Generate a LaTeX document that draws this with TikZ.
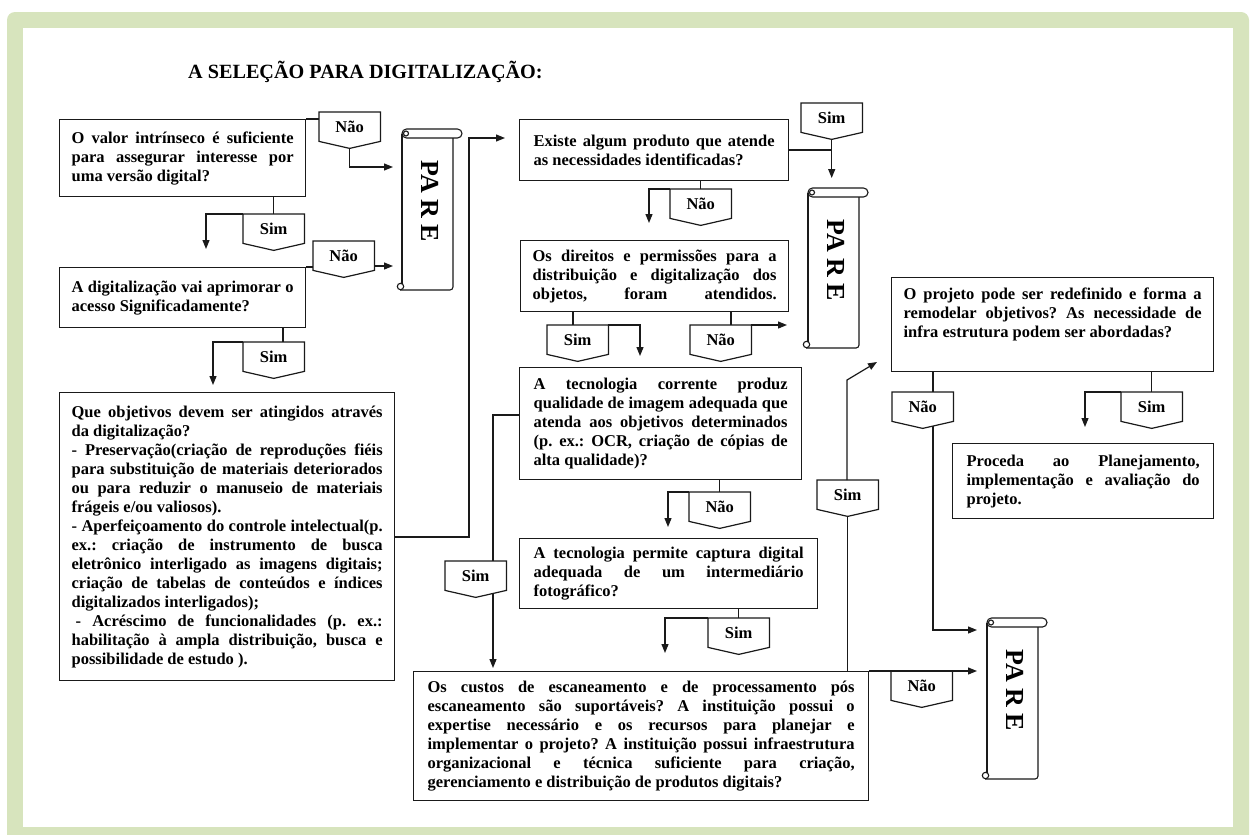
\documentclass[tikz,border=0pt]{standalone}
\usepackage{fontspec}
\setmainfont{Liberation Serif}
\usetikzlibrary{arrows.meta,calc}
\definecolor{framegreen}{HTML}{D7E4BD}
\definecolor{lineblk}{HTML}{1A1A1A}
\tikzset{
  lnk/.style={draw=lineblk, line width=1.2pt},
  arr/.style={lnk, -{Triangle[length=9pt,width=7pt]}},
  qbox/.style n args={4}{draw=lineblk, line width=1.3pt, anchor=north west,
    minimum width=#1pt, minimum height=#2pt, inner xsep=#3pt, inner ysep=1pt,
    text width=#4pt, align=justify, font=\fontsize{16.5}{19}\selectfont\bfseries,
    execute at begin node={\parindent=0pt\tolerance=10000\hbadness=10000\hfuzz=20pt\frenchspacing}},
  tagtext/.style={anchor=north west, minimum width=61pt, minimum height=29pt,
    inner sep=0pt, font=\fontsize{16.5}{19}\selectfont\bfseries},
  paretext/.style={font=\fontsize{26}{30}\selectfont\bfseries, inner sep=0pt, rotate=-90},
  scrl/.style={draw=lineblk, line width=1.1pt},
}
\newcommand\flowtag[4]{%
  \node[tagtext] (#1) at (#2,#3) {#4};
  \coordinate (#1-tip) at ($(#1.south)+(0,7)$);
  \draw[lnk, line join=miter] (#1.north west) -- (#1.north east) -- (#1.south east)
    -- (#1-tip) -- (#1.south west) -- cycle;
}
\newcommand\parescroll[5]{%
  \node[inner sep=0pt, minimum width=51pt, minimum height={#4pt-#3pt}, anchor=north west] (#1) at (#2,#3) {};
  \draw[scrl, rounded corners=4.5pt] (#2,#3) rectangle ({#2+60},{#3+9});
  \draw[scrl] ({#2+4},{#3+4.5}) circle (2.5pt);
  \draw[scrl] (#2,{#3+4.5}) -- (#2,{#4-6});
  \draw[scrl, rounded corners=3pt] ({#2+51},{#3+9}) -- ({#2+51},#4) -- ({#2-2},#4);
  \draw[scrl] ({#2-1.5},{#4-3.5}) circle (3.2pt);
  \node[paretext] (#1-t) at ({#2+28},#5) {PA R E};
}
\begin{document}
\begin{tikzpicture}[x=1pt,y=-1pt]
\useasboundingbox (0,0) rectangle (1253,835);
\clip (0,0) rectangle (1253,835);
\fill[white] (0,0) rectangle (1253,835);
\fill[framegreen, rounded corners=8pt] (7,12) rectangle (1249,850);
\fill[white] (23,28) rectangle (1233,827);

% title
\node[anchor=west, inner sep=0pt, font=\fontsize{20.2}{23}\selectfont\bfseries] (title) at (188,72) {A SELEÇÃO PARA DIGITALIZAÇÃO:};

% boxes
\node[qbox={246}{77}{12}{222}] (b1) at (59,119) {O valor intrínseco é suficiente\linebreak para assegurar interesse por\linebreak uma versão digital?};
\node[qbox={246}{60}{12}{222}] (b2) at (59,267) {A digitalização vai aprimorar o\linebreak acesso Significadamente?};
\node[qbox={335}{288}{12}{311}] (b3) at (59,392) {Que objetivos devem ser atingidos através\linebreak da digitalização?\par
- Preservação(criação de reproduções fiéis\linebreak para substituição de materiais deteriorados\linebreak ou para reduzir o manuseio de materiais\linebreak frágeis e/ou valiosos).\par
- Aperfeiçoamento do controle intelectual(p.\linebreak ex.: criação de instrumento de busca\linebreak eletrônico interligado as imagens digitais;\linebreak criação de tabelas de conteúdos e índices\linebreak digitalizados interligados);\par
\hspace*{4pt}- Acréscimo de funcionalidades (p. ex.:\linebreak habilitação à ampla distribuição, busca e\linebreak possibilidade de estudo ).};
\node[qbox={269}{61}{14}{241}] (b4) at (519,119) {Existe algum produto que atende\linebreak as necessidades identificadas?};
\node[qbox={268}{71}{12}{244}] (b5) at (520,240) {Os direitos e permissões para a\linebreak distribuição e digitalização dos\linebreak objetos, foram atendidos.\parfillskip=0pt\par};
\node[qbox={282}{112}{14}{254}] (b6) at (519,367) {A tecnologia corrente produz\linebreak qualidade de imagem adequada que\linebreak atenda aos objetivos determinados\linebreak (p. ex.: OCR, criação de cópias de\linebreak alta qualidade)?};
\node[qbox={298}{70}{14}{270}] (b7) at (519,538) {A tecnologia permite captura digital\linebreak adequada de um intermediário\linebreak fotográfico?};
\node[qbox={455}{129}{14}{427}] (b8) at (413,671) {Os custos de escaneamento e de processamento pós\linebreak escaneamento são suportáveis? A instituição possui o\linebreak expertise necessário e os recursos para planejar e\linebreak implementar o projeto? A instituição possui infraestrutura\linebreak organizacional e técnica suficiente para criação,\linebreak gerenciamento e distribuição de produtos digitais?};
\node[qbox={322}{94}{12}{298}] (b9) at (891,277) {O projeto pode ser redefinido e forma a\linebreak remodelar objetivos? As necessidade de\linebreak infra estrutura podem ser abordadas?\par\strut};
\node[qbox={261}{75}{14}{233}] (b10) at (952,443) {Proceda ao Planejamento,\linebreak implementação e avaliação do\linebreak projeto.};

% scrolls
\parescroll{p1}{402}{129}{290}{201}
\parescroll{p2}{808}{188}{348}{260}
\parescroll{p3}{987}{618}{779}{690}

% tags
\flowtag{t1}{319}{112}{Não}
\flowtag{t2}{243}{214}{Sim}
\flowtag{t3}{313}{241}{Não}
\flowtag{t4}{243}{342}{Sim}
\flowtag{t5}{801}{103}{Sim}
\flowtag{t6}{670}{189}{Não}
\flowtag{t7}{547}{325}{Sim}
\flowtag{t8}{690}{325}{Não}
\flowtag{t9}{689}{492}{Não}
\flowtag{t10}{445}{561}{Sim}
\flowtag{t11}{708}{618}{Sim}
\flowtag{t12}{817}{480}{Sim}
\flowtag{t13}{892}{392}{Não}
\flowtag{t14}{1121}{392}{Sim}
\flowtag{t15}{891}{671}{Não}

% named bend / free-end points
\coordinate (a4) at (206,249);
\coordinate (a8) at (213,385);
\coordinate (c9) at (469,537);
\coordinate (j10) at (831,150);
\coordinate (a12) at (649,223);
\coordinate (c15) at (493,415);
\coordinate (c18) at (847,380);
\coordinate (a18) at (877,362);

% connectors
\draw[lnk] (b1.north east) -- (t1.west |- b1.north);
\draw[arr, shorten >=9pt] (t1-tip) |- (p1.west |- 0,167);
\draw[lnk] (b1.south -| t2.north) -- (t2.north);
\draw[arr] (t2.north west) -| (a4);

\draw[lnk] (b2.north east) -- (t3.west |- b2.north);
\draw[arr, shorten >=9pt] (t3.east |- 0,266) -- (p1.west |- 0,266);
\draw[lnk] (b2.south -| 283,0) -- (t4.north -| 283,0);
\draw[arr] (t4.north west) -| (a8);

\draw[arr, shorten >=14pt] (b3.east |- c9) -- (c9) |- (b4.west |- 0,138);

\draw[lnk] (b4.east |- j10) -- (j10);
\draw[arr, shorten >=10pt] (t5-tip) -- (p2.north -| t5-tip);
\draw[lnk] (b4.south -| t6.north) -- (t6.north);
\draw[arr] (t6.north west) -| (a12);

\draw[lnk] (b5.south -| 573,0) -- (t7.north -| 573,0);
\draw[arr, shorten >=11pt] (t7.north east) -| (b6.north -| 640,0);
\draw[lnk] (b5.south -| 731,0) -- (t8.north -| 731,0);
\draw[arr, shorten >=21pt] (t8.north east) -- (p2.west |- t8.north);

\draw[lnk] (b6.west |- c15) -| (t10.north -| c15);
\draw[arr, shorten >=3pt] ($(t10.south -| c15)+(0,3)$) -- (b8.north -| c15);
\draw[lnk] (b6.south -| t9.north) -- (t9.north);
\draw[arr, shorten >=11pt] (t9.north west) -| (b7.north -| 668,0);

\draw[lnk] (b7.south -| t11.north) -- (t11.north);
\draw[arr, shorten >=18pt] (t11.north west) -| (b8.north -| 665,0);

\draw[lnk] (b8.north -| t12-tip) -- (t12-tip);
\draw[arr] (t12.north -| c18) -- (c18) -- (a18);

\draw[lnk] (b9.south -| 933,0) -- (t13.north -| 933,0);
\draw[arr, shorten >=10pt] ($(t13.south -| 933,0)+(0,4.6)$) |- (p3.west |- 0,630);
\draw[lnk] (b9.south -| t14.north) -- (t14.north);
\draw[arr, shorten >=16pt] (t14.north west) -| (b10.north -| 1085,0);

\draw[arr, shorten >=10pt] (b8.north east) -- (p3.west |- b8.north);
\end{tikzpicture}
\end{document}
